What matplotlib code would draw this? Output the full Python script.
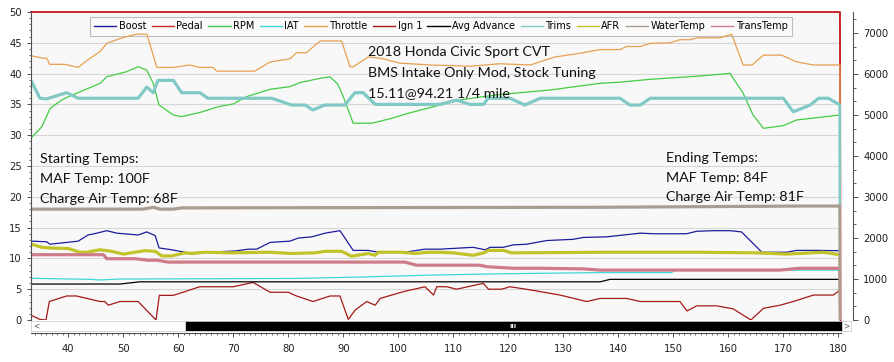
import matplotlib
matplotlib.use("Agg")
import matplotlib.pyplot as plt
from matplotlib.lines import Line2D
from matplotlib.patches import Rectangle
from matplotlib.ticker import MultipleLocator, AutoMinorLocator

# ---------------- data ----------------
x_limits = (33.22, 180.49)

throttle_x = [33.2, 35.4, 36.1, 36.6, 39.4, 41.8, 43.5, 45.8, 47.0, 48.8, 50.6, 52.4, 54.3, 56.1, 59.1,
              62.1, 63.9, 66.3, 67.0, 73.9, 76.7, 80.3, 81.5, 83.3, 85.8, 89.7, 91.2, 91.8, 94.5, 96.7,
              100.3, 105.8, 113.1, 118.5, 124.0, 128.5, 133.0, 136.7, 140.3, 141.5, 144.0, 145.8, 149.4,
              151.2, 153.0, 154.3, 158.5, 160.6, 162.7, 164.3, 166.4, 169.7, 172.4, 175.5, 180.3, 180.4]
throttle_y = [42.9, 42.5, 42.5, 41.5, 41.5, 41.0, 42.2, 43.6, 44.9, 45.5, 46.0, 46.4, 46.4, 41.0, 41.0,
              41.4, 41.0, 41.0, 40.4, 40.4, 41.9, 42.4, 43.4, 43.4, 45.3, 45.3, 41.1, 41.1, 42.7, 42.5,
              41.7, 41.4, 41.2, 41.6, 41.4, 42.7, 43.3, 43.9, 43.9, 44.4, 44.4, 44.9, 45.0,
              45.5, 45.5, 45.8, 45.8, 46.4, 41.4, 41.4, 43.0, 43.0, 41.9, 41.4, 41.4, 0.0]

trims_x = [33.16, 34.85, 36.07, 39.7, 41.8, 52.7, 54.25, 55.45, 56.3, 59.1, 60.6, 63.9, 65.4, 77.0, 80.6,
           83.0, 84.5, 86.6, 90.3, 92.1, 93.6, 95.8, 107.6, 110.6, 113.0, 115.5, 116.3, 120.3, 123.0,
           125.8, 140.3, 142.1, 144.0, 145.8, 170.0, 171.8, 174.9, 176.4, 178.2, 180.3, 180.4]
trims_y = [39.0, 36.0, 35.9, 36.9, 36.0, 36.0, 37.8, 36.9, 38.9, 38.9, 36.9, 36.9, 36.0, 36.0, 34.9,
           34.9, 34.1, 34.9, 34.9, 36.9, 36.9, 35.0, 35.0, 35.7, 35.0, 35.0, 36.0, 36.0, 34.9,
           36.0, 36.0, 34.9, 34.9, 36.0, 36.0, 33.8, 34.9, 36.0, 36.0, 34.9, 0.0]

rpm_x = [33.16, 35.2, 36.7, 38.8, 40.0, 45.8, 47.0, 50.6, 52.7, 54.25, 55.45, 56.5, 59.1, 60.6, 63.9,
         67.3, 70.0, 72.4, 76.7, 80.3, 82.1, 85.8, 87.6, 89.0, 89.9, 91.8, 95.2, 98.8, 101.8, 107.6,
         111.2, 115.4, 118.5, 127.6, 136.7, 140.3, 145.8, 154.8, 160.3, 162.7, 164.5, 166.4, 170.0,
         172.4, 180.3, 180.4]
rpm_y = [4430, 4715, 5160, 5366, 5446, 5773, 5934, 6056, 6178, 6098, 5773, 5244, 5000, 4960, 5060,
         5203, 5270, 5447, 5627, 5691, 5790, 5895, 5930, 5750, 5480, 4800, 4800, 4919, 5041, 5244,
         5366, 5447, 5500, 5610, 5773, 5800, 5870, 5951, 6016, 5529, 5000, 4675, 4740,
         4878, 5000, 0]

boost_x = [33.35, 36.07, 36.67, 41.8, 43.6, 45.2, 47.0, 48.8, 52.7, 54.25, 55.8, 56.5, 58.8, 61.8, 64.85,
           70.3, 72.7, 74.25, 76.7, 80.3, 81.8, 84.25, 86.7, 89.4, 91.8, 94.5, 96.4, 101.2, 104.8,
           107.6, 113.6, 115.8, 116.7, 119.1, 120.9, 123.3, 127.0, 131.8, 133.6, 137.9, 144.0, 146.4,
           152.4, 154.25, 157.3, 160.3, 162.4, 166.1, 170.6, 172.4, 176.1, 180.3, 180.4]
boost_y = [12.8, 12.7, 12.3, 12.8, 13.8, 14.1, 14.5, 14.1, 13.8, 14.3, 13.7, 11.7, 11.4, 10.9, 11.0,
           11.2, 11.5, 11.5, 12.6, 12.8, 13.3, 13.5, 14.1, 14.5, 11.3, 11.3, 11.0, 11.0, 11.5,
           11.5, 11.8, 11.4, 11.8, 11.8, 12.2, 12.3, 12.9, 13.1, 13.4, 13.5, 14.1, 14.0,
           14.0, 14.4, 14.5, 14.5, 14.3, 11.0, 11.0, 11.3, 11.3, 11.25, 0.0]

afr_x = [33.35, 35.2, 36.67, 40.0, 42.1, 43.35, 45.76, 47.6, 50.0, 53.9, 55.8, 57.0, 58.8, 61.2, 62.4,
         64.85, 69.7, 76.4, 80.6, 84.85, 86.7, 89.7, 91.5, 94.5, 95.8, 96.4, 100.6, 103.0, 105.5,
         107.6, 110.0, 113.6, 115.5, 116.4, 119.1, 120.6, 137.9, 154.25, 165.2, 170.6, 177.3, 180.3, 180.4]
afr_y = [12.3, 11.8, 11.7, 11.6, 11.0, 11.0, 11.4, 11.2, 10.7, 11.25, 11.15, 10.4, 10.4, 10.9, 10.8,
         11.0, 10.9, 11.0, 10.8, 10.9, 11.15, 11.15, 10.35, 10.8, 10.5, 11.0, 11.0, 10.8, 11.0,
         11.0, 10.9, 10.5, 10.9, 11.3, 11.3, 10.9, 11.0, 11.0, 10.9, 10.7, 11.0, 10.6, 0.0]

trans_x = [33.35, 46.4, 47.0, 52.1, 54.5, 56.1, 58.2, 101.2, 103.3, 114.8, 116.1, 120.9, 125.8, 133.6,
           136.7, 169.4, 173.0, 180.3, 180.4]
trans_y = [10.6, 10.6, 9.95, 9.95, 9.7, 9.7, 9.4, 9.4, 8.9, 8.9, 8.65, 8.4, 8.4, 8.3,
           8.1, 8.1, 8.4, 8.4, 0.0]

iat_x = [33.16, 43.95, 45.76, 49.4, 82.1, 94.25, 106.4, 118.5, 136.7, 149.7, 150.3, 180.3, 180.4]
iat_y = [6.77, 6.6, 6.5, 6.65, 6.75, 7.0, 7.3, 7.5, 7.7, 7.7, 8.1, 8.1, 0.0]

adv_x = [33.16, 49.4, 53.0, 136.7, 138.5, 180.3, 180.4]
adv_y = [5.84, 5.84, 6.2, 6.2, 6.6, 6.6, 0.0]

ign_x = [33.16, 34.85, 35.95, 36.55, 39.7, 41.5, 45.76, 46.67, 47.27, 49.4, 52.7, 55.95, 56.55, 59.1,
         63.9, 70.0, 73.6, 76.7, 80.0, 81.5, 84.5, 87.6, 89.4, 90.9, 92.15, 94.25, 95.8, 96.7,
         100.9, 104.85, 106.4, 107.0, 108.8, 110.6, 115.45, 116.4, 118.8, 120.3, 123.9, 129.4, 134.25,
         136.7, 141.5, 144.0, 151.2, 152.5, 154.25, 157.9, 160.9, 164.1, 166.4, 169.4, 171.8, 175.5,
         179.1, 180.4]
ign_y = [0.8, 0.1, 0.0, 3.0, 3.9, 3.9, 3.0, 3.0, 2.4, 3.0, 3.0, 0.0, 4.0, 4.0,
         5.4, 5.4, 6.1, 4.5, 4.5, 3.9, 3.0, 3.9, 3.9, 0.1, 1.6, 3.0, 2.4, 3.5,
         4.6, 5.4, 4.05, 5.4, 5.4, 5.0, 5.95, 5.0, 5.0, 5.4, 4.9, 4.05, 3.0,
         3.5, 3.5, 3.0, 3.0, 1.46, 2.3, 2.3, 1.8, 0.0, 1.9, 2.4, 3.0, 4.05,
         4.05, 4.9]

water_x = [33.16, 53.6, 55.45, 56.65, 59.1, 60.6, 136.7, 173.0, 180.3, 180.4]
water_y = [18.0, 18.0, 18.3, 18.0, 18.0, 18.2, 18.3, 18.5, 18.5, 0.0]

pedal_x = [33.22, 180.3, 180.4]
pedal_y = [100, 100, 0]

legend_labels = ["Boost", "Pedal", "RPM", "IAT", "Throttle", "Ign 1", "Avg Advance", "Trims", "AFR",
                 "WaterTemp", "TransTemp"]
colors = {"Boost": "#1c1c9c", "Pedal": "#c8262a", "RPM": "#44cc44", "IAT": "#3fd6d6",
          "Throttle": "#e8a050", "Ign 1": "#a31a1a", "Avg Advance": "#000000", "Trims": "#80c9c5",
          "AFR": "#c2c22a", "WaterTemp": "#a99d92", "TransTemp": "#cf7c8a"}

title_lines = ["2018 Honda Civic Sport CVT", "BMS Intake Only Mod, Stock Tuning", "15.11@94.21 1/4 mile"]
start_lines = ["Starting Temps:", "MAF Temp: 100F", "Charge Air Temp: 68F"]
end_lines = ["Ending Temps:", "MAF Temp: 84F", "Charge Air Temp: 81F"]

# ---------------- figure ----------------
W, H = 894, 362
fig = plt.figure(figsize=(W / 100, H / 100), dpi=100, facecolor="white")
L, R, T, B = 31, 841, 12, 320
rect = [L / W, 1 - B / H, (R - L) / W, (B - T) / H]

ax = fig.add_axes(rect)
ax2 = ax.twinx()   # RPM
ax3 = ax.twinx()   # Pedal (bottom layer, carries the background + legend)
ax3.set_zorder(0)
ax2.set_zorder(1)
ax.set_zorder(2)
ax.patch.set_visible(False)
ax2.patch.set_visible(False)
ax3.patch.set_visible(True)
ax3.patch.set_facecolor("#f8f8f8")

thin = 0.9
thick = 2.3

ax3.plot(pedal_x, pedal_y, color=colors["Pedal"], lw=1.4, clip_on=False)
ax2.plot(rpm_x, rpm_y, color=colors["RPM"], lw=thin)
ax.plot(boost_x, boost_y, color=colors["Boost"], lw=thin)
ax.plot(iat_x, iat_y, color=colors["IAT"], lw=thin)
ax.plot(throttle_x, throttle_y, color=colors["Throttle"], lw=thin)
ax.plot(ign_x, ign_y, color=colors["Ign 1"], lw=thin)
ax.plot(adv_x, adv_y, color=colors["Avg Advance"], lw=thin)
ax.plot(trims_x, trims_y, color=colors["Trims"], lw=thick)
ax.plot(afr_x, afr_y, color=colors["AFR"], lw=thick)
ax.plot(trans_x, trans_y, color=colors["TransTemp"], lw=thick)
ax.plot(water_x, water_y, color=colors["WaterTemp"], lw=thick)

ax.set_xlim(*x_limits)
ax.set_ylim(0, 50)
ax2.set_ylim(0, 7512)
ax3.set_ylim(0, 100)

# grid (on the bottom layer so every series sits above it)
ax3.set_yticks([0, 10, 20, 30, 40, 50, 60, 70, 80, 90, 100])
ax3.yaxis.grid(True, color="#d6d6d6", lw=0.8)
ax3.tick_params(axis="y", which="both", right=False, left=False, labelright=False, labelleft=False)
ax3.tick_params(axis="x", which="both", bottom=False, labelbottom=False)

# spines
for a in (ax, ax2, ax3):
    a.spines["top"].set_visible(False)
ax.spines["right"].set_visible(False)
for s in ("left", "bottom", "right"):
    ax3.spines[s].set_visible(False)
ax2.spines["left"].set_visible(False)
ax2.spines["bottom"].set_visible(False)

axis_col = "#505050"
ax.spines["left"].set_color(axis_col)
ax.spines["bottom"].set_color(axis_col)
ax.spines["bottom"].set_position(("outward", 13 * 0.72))
ax2.spines["right"].set_color(axis_col)
ax2.spines["right"].set_position(("outward", 12.3 * 0.72))

ax.xaxis.set_major_locator(MultipleLocator(10))
ax.xaxis.set_minor_locator(MultipleLocator(1))
ax.yaxis.set_major_locator(MultipleLocator(5))
ax.yaxis.set_minor_locator(AutoMinorLocator(5))
ax2.yaxis.set_major_locator(MultipleLocator(1000))
ax2.yaxis.set_minor_locator(AutoMinorLocator(3))

tick_font = 7.2
ax.tick_params(axis="y", which="major", length=3, width=0.7, color=axis_col, labelsize=tick_font, pad=3.5)
ax.tick_params(axis="y", which="minor", length=1.6, width=0.6, color=axis_col)
ax.tick_params(axis="x", which="major", length=3, width=0.7, color=axis_col, labelsize=tick_font, pad=5)
ax.tick_params(axis="x", which="minor", length=1.6, width=0.6, color=axis_col)
ax2.tick_params(axis="y", which="major", length=3.6, width=0.7, color=axis_col, labelsize=tick_font, pad=3.5)
ax2.tick_params(axis="y", which="minor", length=2, width=0.6, color=axis_col)
for a in (ax, ax2):
    for lab in a.get_xticklabels() + a.get_yticklabels():
        lab.set_color("#202020")

# legend (behind the series, like the reference)
handles = [Line2D([0], [0], color=colors[k], lw=1.0) for k in legend_labels]
leg = ax3.legend(handles, legend_labels, loc="upper left",
                 bbox_to_anchor=((89.5 - L) / (R - L), (B - 17) / (B - T)),
                 ncol=len(legend_labels), fontsize=7, frameon=True, fancybox=False,
                 handlelength=2.3, handletextpad=0.25, columnspacing=0.55, borderpad=0.45,
                 borderaxespad=0)
leg.get_frame().set_facecolor("#fafafa")
leg.get_frame().set_edgecolor("#bdbdbd")
leg.get_frame().set_linewidth(0.8)
leg.get_frame().set_alpha(1)

# annotation text
ann_font = dict(family=["Lato", "DejaVu Sans"], size=10.3, color="#111111", va="center", ha="left")
for i, line in enumerate(title_lines):
    fig.text(368 / W, 1 - (52.5 + 20.3 * i) / H, line, **ann_font)
for i, line in enumerate(start_lines):
    fig.text(40.5 / W, 1 - (159.3 + 19.9 * i) / H, line, **ann_font)
for i, line in enumerate(end_lines):
    fig.text(665.5 / W, 1 - (158.3 + 19.5 * i) / H, line, **ann_font)

# scrollbar strip between plot and x axis
sb = fig.add_axes([L / W, 1 - 331 / H, (851 - L) / W, 10 / H])
sb.set_xlim(0, 1)
sb.set_ylim(0, 1)
sb.set_xticks([])
sb.set_yticks([])
sb.patch.set_facecolor("white")
for s in sb.spines.values():
    s.set_color("#d0d0d0")
    s.set_linewidth(0.6)
sb.add_patch(Rectangle(((186 - L) / 820, 0.0), (841 - 186) / 820, 1.0, color="black"))
sb.text((36 - L) / 820, 0.5, "<", fontsize=5.5, color="#606060", ha="center", va="center")
sb.text((846.5 - L) / 820, 0.5, ">", fontsize=5.5, color="#606060", ha="center", va="center")
sb.text((513 - L) / 820, 0.5, "III", fontsize=4.5, color="white", ha="center", va="center",
        fontweight="bold")

fig.savefig("out.png", dpi=100, facecolor="white")
